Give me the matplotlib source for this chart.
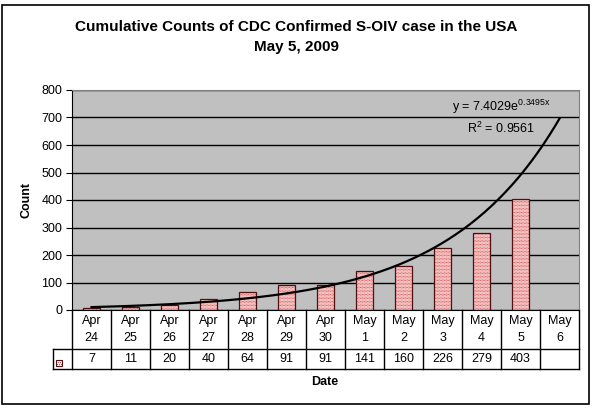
import numpy as np
import matplotlib
matplotlib.use("Agg")
import matplotlib.pyplot as plt
from matplotlib.patches import Rectangle
from matplotlib.transforms import blended_transform_factory

plt.rcParams['font.family'] = ['Liberation Sans', 'DejaVu Sans']
plt.rcParams['mathtext.default'] = 'regular'
plt.rcParams['hatch.linewidth'] = 0.5

# data
dates = ['Apr\n24', 'Apr\n25', 'Apr\n26', 'Apr\n27', 'Apr\n28', 'Apr\n29', 'Apr\n30',
         'May\n1', 'May\n2', 'May\n3', 'May\n4', 'May\n5', 'May\n6']
counts = [7, 11, 20, 40, 64, 91, 91, 141, 160, 226, 279, 403]
yticks = [0, 100, 200, 300, 400, 500, 600, 700, 800]
title = 'Cumulative Counts of CDC Confirmed S-OIV case in the USA\nMay 5, 2009'
eq_text = r'y = 7.4029e$^{0.3495x}$'
r2_text = r'R$^{2}$ = 0.9561'

fig = plt.figure(figsize=(5.95, 4.09), dpi=100)
ax = fig.add_axes([72/595, 1-310/409, 507/595, 220/409])
ax.set_facecolor('#c0c0c0')

pos = np.arange(len(counts))
# dotted pink bars: hatch layer then outline
ax.bar(pos, counts, width=0.43, color='white', edgecolor='#cc1010', hatch='.'*12,
       linewidth=0, zorder=3)
ax.bar(pos, counts, width=0.43, facecolor='none', edgecolor='#501010',
       linewidth=0.9, zorder=4)

# exponential trendline (Excel style, x = 1..n)
xs = np.arange(1, len(counts) + 1)
b, a = np.polyfit(xs, np.log(counts), 1)
xt = np.linspace(1, len(dates), 200)
ax.plot(xt - 1, np.exp(a) * np.exp(b * xt), color='black', lw=1.6, zorder=5)

ax.set_xlim(-0.5, len(dates) - 0.5)
ax.set_ylim(0, 800)
ax.set_yticks(yticks)
ax.set_xticks([])
ax.tick_params(axis='y', direction='out', length=4, labelsize=9, pad=3)
ax.yaxis.grid(True, color='black', lw=1)
ax.set_axisbelow(True)
for s in ['top', 'right']:
    ax.spines[s].set_color('#808080')
ax.spines['left'].set_color('black')
ax.spines['bottom'].set_color('black')
ax.set_ylabel('Count', fontsize=9, fontweight='bold')
ax.yaxis.set_label_coords(-39/507, 0.5)

ax.text(429/507, (310-107)/220, eq_text, transform=ax.transAxes,
        ha='center', va='center', fontsize=9, zorder=6)
ax.text(429/507, (310-128)/220, r2_text, transform=ax.transAxes,
        ha='center', va='center', fontsize=9, zorder=6)

# data table under the axis: x in category units, y in axes units
tr = blended_transform_factory(ax.transData, ax.transAxes)
y_mid = -39/220
y_bot = -59/220
x0 = -0.5
x1 = len(dates) - 0.5
x_key = x0 - 19/39
line_kw = dict(color='black', lw=1, transform=tr, clip_on=False)
for k in range(len(dates) + 1):
    ax.plot([x0 + k, x0 + k], [0, y_bot], **line_kw)
ax.plot([x_key, x_key], [y_mid, y_bot], **line_kw)
ax.plot([x_key, x1], [y_mid, y_mid], **line_kw)
ax.plot([x_key, x1], [y_bot, y_bot], **line_kw)
for j, d in enumerate(dates):
    ax.text(j, y_mid / 2, d, transform=tr, ha='center', va='center',
            fontsize=9, linespacing=1.5)
for j, v in enumerate(counts):
    ax.text(j, (y_mid + y_bot) / 2, str(v), transform=tr, ha='center',
            va='center', fontsize=9)

# legend key in the table
key_x = x_key + 3/39
key_y = -56/220
ax.add_patch(Rectangle((key_x, key_y), 6/39, 6/220, transform=tr,
                       facecolor='white', edgecolor='#cc1010', hatch='.'*8, lw=0,
                       clip_on=False, zorder=7))
ax.add_patch(Rectangle((key_x, key_y), 6/39, 6/220, transform=tr,
                       facecolor='none', edgecolor='#501010', lw=0.8,
                       clip_on=False, zorder=8))

fig.text(325/595, 1-382/409, 'Date', ha='center', va='center', fontsize=9,
         fontweight='bold')
fig.text(296/595, 1-37/409, title, ha='center', va='center', fontsize=11,
         fontweight='bold', linespacing=1.55)

fig.patches.append(Rectangle((2/595, 1-404/409), 587/595, 399/409,
                             transform=fig.transFigure, facecolor='none',
                             edgecolor='black', lw=1.2))

fig.savefig('out.png', dpi=100)
